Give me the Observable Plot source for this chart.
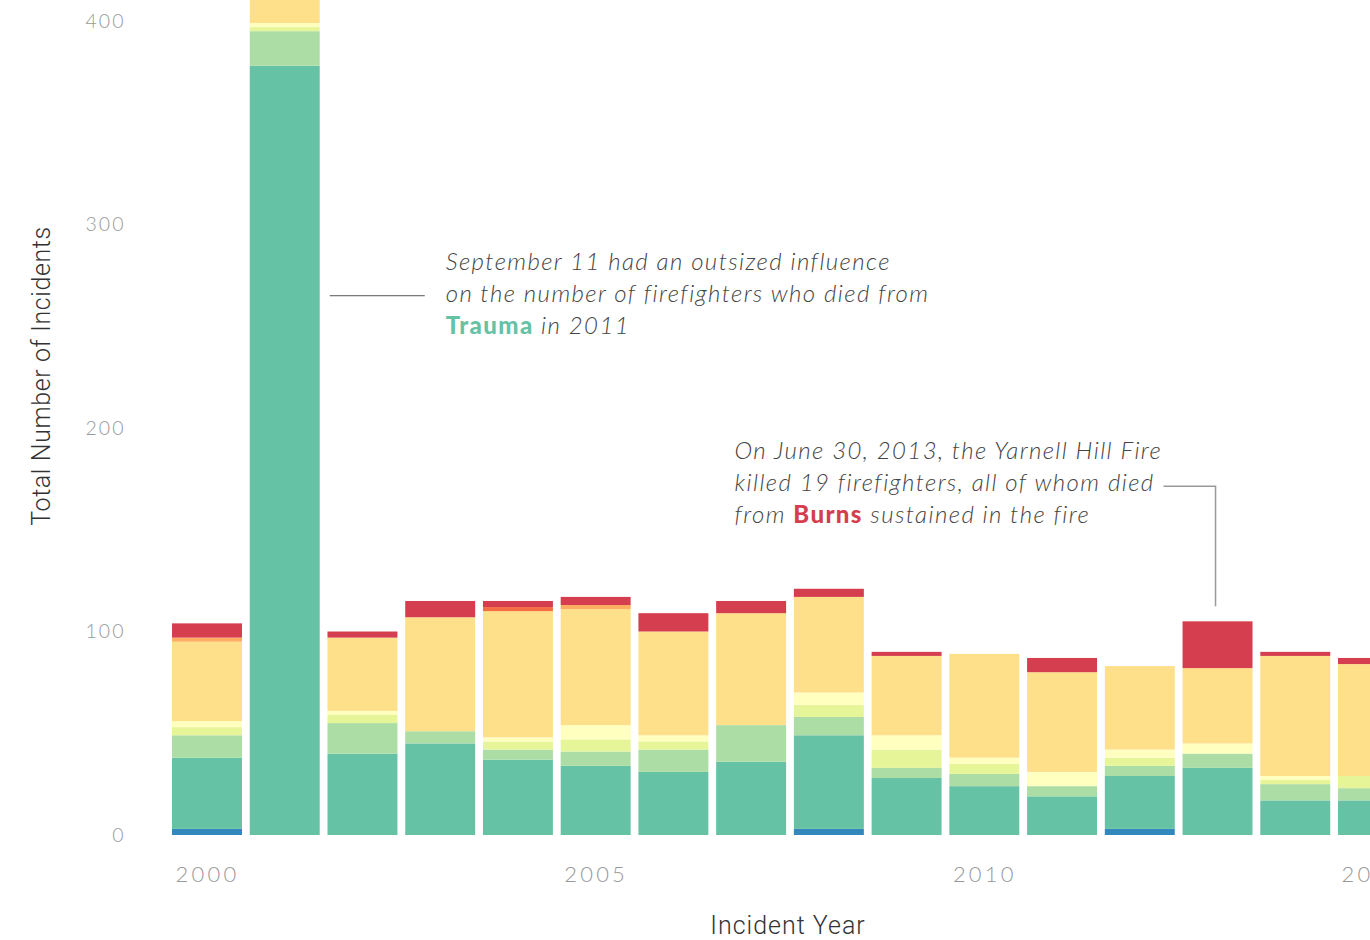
<!DOCTYPE html>
<html><head><meta charset="utf-8">
<script src="https://cdn.jsdelivr.net/npm/d3@7"></script>
<script src="https://cdn.jsdelivr.net/npm/@observablehq/plot@0.6"></script>
<style>
html,body{margin:0;padding:0;background:#fff;overflow:hidden;}
#chart svg{display:block;max-width:none;}
g[aria-label="x-axis tick label"] text{letter-spacing:3.2px;}
g[aria-label="y-axis tick label"] text{letter-spacing:2px;}
</style></head><body><div id="chart"></div>
<script>
const years = [2000,2001,2002,2003,2004,2005,2006,2007,2008,2009,2010,2011,2012,2013,2014,2015];
const causes = ["Unknown","Trauma","Asphyxiation","Cerebrovascular Accident","Other","Heart Attack","Electrocution","Drowning","Burns"];
const colors = ["#3288bd","#66c2a5","#abdda4","#e6f598","#ffffbf","#fee08b","#fdae61","#f46d43","#d53e4f"];

const unknown       = [3,  0, 0, 0, 0, 0, 0, 0, 3, 0, 0, 0, 3, 0, 0, 0];
const trauma        = [35,378,40,45,37,34,31,36,46,28,24,19,26,33,17,17];
const asphyxiation  = [11, 17,15, 6, 5, 7,11,18, 9, 5, 6, 5, 5, 7, 8, 6];
const cva           = [4,  2, 4, 0, 4, 6, 4, 0, 6, 9, 5, 0, 4, 0, 2, 6];
const other         = [3,  2, 2, 0, 2, 7, 3, 0, 6, 7, 3, 7, 4, 5, 2, 0];
const heartAttack   = [39, 40,36,56,62,57,51,55,47,39,51,49,41,37,59,55];
const electrocution = [2,  0, 0, 0, 0, 2, 0, 0, 0, 0, 0, 0, 0, 0, 0, 0];
const drowning      = [0,  0, 0, 0, 2, 0, 0, 0, 0, 0, 0, 0, 0, 0, 0, 0];
const burns         = [7,  5, 3, 8, 3, 4, 9, 6, 4, 2, 0, 7, 0,23, 2, 3];

const yTicks = [0,100,200,300,400];
const xTicks = [2000,2005,2010,2015];
const yTitle = "Total Number of Incidents";
const xTitle = "Incident Year";

const seriesList = [unknown,trauma,asphyxiation,cva,other,heartAttack,electrocution,drowning,burns];
const rows = causes.flatMap((c, k) => years.map((yr, i) => ({year: yr, cause: c, value: seriesList[k][i]})));
const totals = years.map((yr, i) => seriesList.reduce((s, arr) => s + arr[i], 0));

const chart = Plot.plot({
  width: 1370, height: 940,
  marginTop: 21, marginBottom: 105, marginLeft: 207, marginRight: -3,
  style: {fontFamily: "Lato, sans-serif", background: "#fff", overflow: "hidden"},
  x: {domain: [2000, 2015]},
  y: {domain: [0, 400]},
  color: {domain: causes, range: colors},
  marks: [
    Plot.rectY(rows, Plot.stackY({
      x1: d => d.year - 0.45, x2: d => d.year + 0.45,
      y: "value", fill: "cause", order: causes
    })),
    Plot.axisY({ticks: yTicks, tickSize: 0, tickPadding: 82, label: null,
      fontSize: 19.5, color: "#999", fontWeight: 300}),
    Plot.axisX({ticks: xTicks, tickFormat: "d", tickSize: 0, tickPadding: 31, label: null,
      fontSize: 22, color: "#999", fontWeight: 300})
  ]
});
document.getElementById("chart").appendChild(chart);

const sx = chart.scale("x"), sy = chart.scale("y");
const svg = d3.select(chart);

// Axis titles
const midY = (sy.apply(0) + sy.apply(400)) / 2;
const midX = (sx.apply(2000) + sx.apply(2015)) / 2;
svg.append("text").text(yTitle)
  .attr("transform", `translate(${sx.apply(2000) - 166},${midY - 52}) rotate(-90)`)
  .attr("text-anchor", "middle").attr("dy", "0.35em")
  .attr("font-family", "Roboto, sans-serif").attr("font-weight", 300)
  .attr("font-size", 25).attr("letter-spacing", "0.6px").attr("fill", "#333");
svg.append("text").text(xTitle)
  .attr("x", midX - 2).attr("y", sy.apply(0) + 99)
  .attr("text-anchor", "middle")
  .attr("font-family", "Roboto, sans-serif").attr("font-weight", 300)
  .attr("font-size", 25).attr("letter-spacing", "1px").attr("fill", "#333");

// Annotations anchored to data positions via the plot's own scales
const g = svg.append("g").attr("font-family", "Lato, sans-serif").attr("font-size", 24)
  .attr("text-anchor", "start").attr("letter-spacing", "1.4px");

function writeLines(x, baselines, lines) {
  lines.forEach((parts, li) => {
    const t = g.append("text").attr("x", x).attr("y", baselines[li]).attr("text-anchor", "start");
    parts.forEach(p => {
      t.append("tspan").text(p.t)
        .attr("font-style", p.b ? "normal" : "italic")
        .attr("font-weight", p.b ? 900 : 300)
        .attr("fill", p.c || "#444");
    });
  });
}

// Note 1: 2001 Trauma
{
  const ax = sx.apply(2001), ay = sy.apply(265);
  g.append("line").attr("x1", ax + 45).attr("x2", ax + 140).attr("y1", ay).attr("y2", ay)
    .attr("stroke", "#555").attr("stroke-width", 1);
  writeLines(ax + 161, [ay - 26, ay + 6, ay + 38], [
    [{t: "September 11 had an outsized influence"}],
    [{t: "on the number of firefighters who died from"}],
    [{t: "Trauma", b: true, c: "#66c2a5"}, {t: " in 2011"}]
  ]);
}
// Note 2: 2013 Burns
{
  const i = years.indexOf(2013);
  const ax = sx.apply(2013) - 2, top = sy.apply(totals[i]);
  const lineBottom = top - 15, lineTop = top - 135;
  g.append("path").attr("d", `M${ax - 52},${lineTop}H${ax}V${lineBottom}`)
    .attr("fill", "none").attr("stroke", "#999").attr("stroke-width", 1.5);
  writeLines(ax - 481, [lineTop - 27, lineTop + 5, lineTop + 37], [
    [{t: "On June 30, 2013, the Yarnell Hill Fire"}],
    [{t: "killed 19 firefighters, all of whom died"}],
    [{t: "from "}, {t: "Burns", b: true, c: "#d53e4f"}, {t: " sustained in the fire"}]
  ]);
}
</script></body></html>
